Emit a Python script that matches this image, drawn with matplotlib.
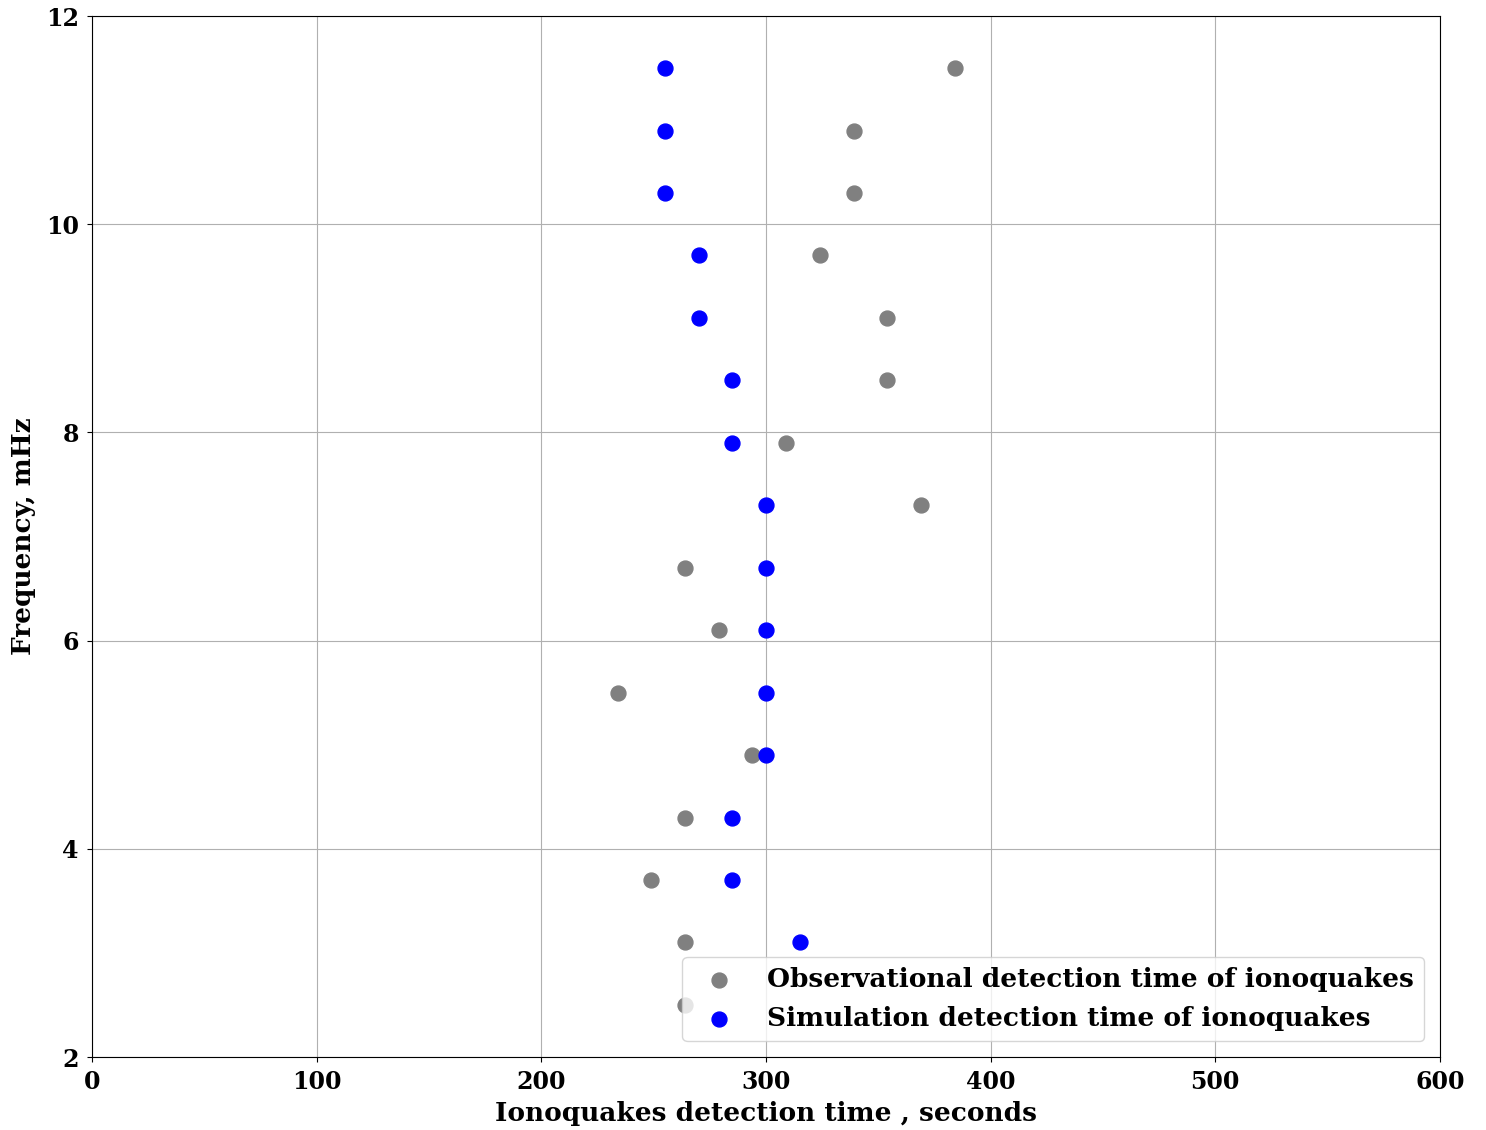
import matplotlib
matplotlib.use("Agg")
import matplotlib.pyplot as plt

plt.rcParams['font.family'] = 'DejaVu Serif'
plt.rcParams['font.weight'] = 'bold'

freq = [11.5, 10.9, 10.3, 9.7, 9.1, 8.5, 7.9, 7.3, 6.7, 6.1, 5.5, 4.9, 4.3, 3.7, 3.1, 2.5]
obs_time = [384, 339, 339, 324, 354, 354, 309, 369, 264, 279, 234, 294, 264, 249, 264, 264]
sim_freq = freq[:-1]
sim_time = [255, 255, 255, 270, 270, 285, 285, 300, 300, 300, 300, 300, 285, 285, 315]

fig = plt.figure(figsize=(14.86, 11.3), dpi=100)
ax = fig.add_axes([0.0619, 0.0646, 0.9071, 0.9212])

ax.scatter(obs_time, freq, s=115, color='gray', label='Observational detection time of ionoquakes', zorder=3)
ax.scatter(sim_time, sim_freq, s=115, color='blue', label='Simulation detection time of ionoquakes', zorder=3)

ax.set_xlim(0, 600)
ax.set_ylim(2, 12)
ax.set_xticks([0, 100, 200, 300, 400, 500, 600])
ax.set_yticks([2, 4, 6, 8, 10, 12])
ax.grid(True, color='#b0b0b0', linewidth=0.8)
ax.set_axisbelow(True)
ax.tick_params(labelsize=17, pad=6)
for lab in ax.get_xticklabels() + ax.get_yticklabels():
    lab.set_fontweight('bold')

ax.set_xlabel('Ionoquakes detection time , seconds', fontsize=19, fontweight='bold', labelpad=5)
ax.set_ylabel('Frequency, mHz', fontsize=19, fontweight='bold', labelpad=7)

ax.legend(loc='lower right', prop={'size': 19, 'weight': 'bold'}, borderaxespad=0.6)

fig.savefig('out.png', dpi=100)
